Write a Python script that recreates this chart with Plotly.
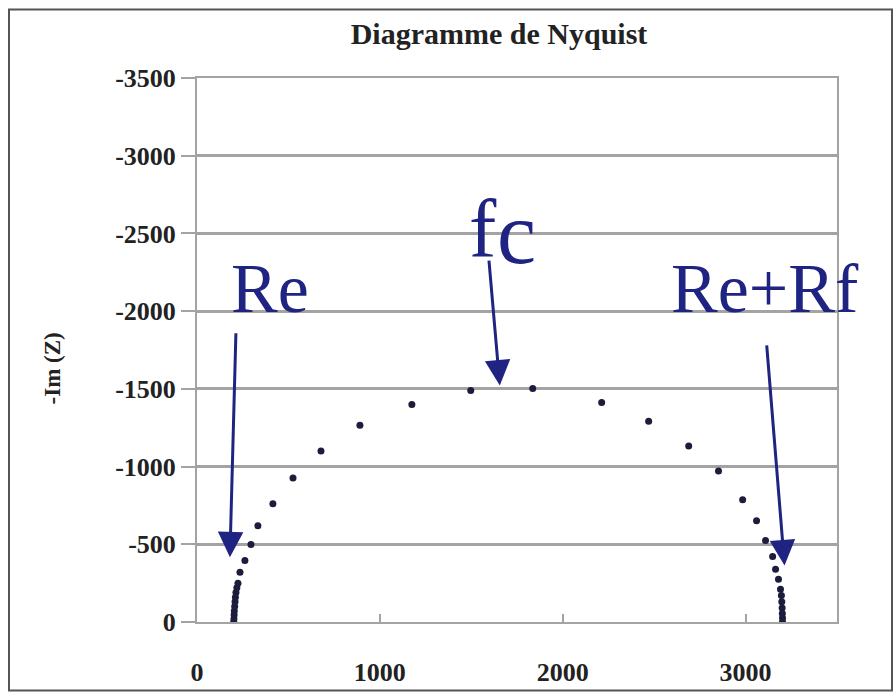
import plotly.graph_objects as go

# ---- data ----
z_real = [201, 202, 203, 204, 206, 208, 210, 213, 218, 224, 235, 262, 295, 333, 415, 525, 678,
          891, 1175, 1497, 1836, 2213, 2470, 2689, 2852, 2984, 3060, 3109, 3148, 3164, 3180,
          3191, 3196, 3198, 3200, 3201, 3202, 3202]
z_imag = [0, -20, -45, -70, -100, -130, -160, -190, -220, -250, -320, -396, -499, -620, -761, -927,
          -1100, -1266, -1400, -1490, -1503, -1413, -1292, -1132, -972, -786, -652, -524, -422,
          -339, -275, -211, -170, -130, -90, -55, -25, 0]

x_ticks = [0, 1000, 2000, 3000]
x_tick_labels = ["0", "1000", "2000", "3000"]
y_ticks = [0, -500, -1000, -1500, -2000, -2500, -3000, -3500]
y_tick_labels = ["0", "-500", "-1000", "-1500", "-2000", "-2500", "-3000", "-3500"]

title_text = "Diagramme de Nyquist"
y_title = "-Im (Z)"

# ---- layout constants ----
W, H = 895, 699
L, R, T, B = 197, 837, 78, 625
SERIF = "Liberation Serif, Times New Roman, serif"
NAVY = "#1f2382"
DOT = "#1c1c3c"
GRID = "#a3a3a3"
TXT = "#222222"

def px2paper_x(px):
    return (px - L) / (R - L)

def px2paper_y(py):
    return (B - py) / (B - T)

fig = go.Figure()
fig.add_trace(go.Scatter(
    x=z_real, y=z_imag, mode="markers",
    marker=dict(size=7, color=DOT),
    showlegend=False, hoverinfo="skip",
))

fig.update_layout(
    width=W, height=H,
    margin=dict(l=L, r=W - R, t=T, b=H - B, pad=0),
    paper_bgcolor="white", plot_bgcolor="white",
    title=dict(text="<b>%s</b>" % title_text, x=499 / W, xref="container",
               y=1 - 33 / H, yref="container", xanchor="center", yanchor="middle",
               font=dict(family=SERIF, size=30, color=TXT)),
    showlegend=False,
)

fig.update_xaxes(
    range=[0, 3500], tickvals=x_ticks, ticktext=["<b>%s</b>" % t for t in x_tick_labels],
    showgrid=False, zeroline=False,
    showline=True, linecolor=GRID, linewidth=2, mirror=True,
    ticks="inside", ticklen=8, tickcolor=GRID, tickwidth=2,
    ticklabelstandoff=26,
    tickfont=dict(family=SERIF, size=26, color=TXT),
)
fig.update_yaxes(
    range=[0, -3500], tickvals=y_ticks, ticktext=["<b>%s</b>" % t for t in y_tick_labels],
    showgrid=True, gridcolor=GRID, gridwidth=3, zeroline=False,
    showline=True, linecolor=GRID, linewidth=2, mirror=True,
    ticks="outside", ticklen=14, tickcolor=GRID, tickwidth=2,
    tickfont=dict(family=SERIF, size=26, color=TXT),
)

annotations = []
# y-axis title
annotations.append(dict(
    text="<b>%s</b>" % y_title, xref="paper", yref="paper",
    x=px2paper_x(52), y=px2paper_y(370), showarrow=False, textangle=-90,
    xanchor="center", yanchor="middle",
    font=dict(family=SERIF, size=23, color=TXT),
))

# arrows (head, tail in data coordinates)
arrows = [
    ((180, -416), (213, -1867)),
    ((1656, -1522), (1596, -2334)),
    ((3213, -364), (3115, -1790)),
]
for (hx, hy), (tx, ty) in arrows:
    annotations.append(dict(
        x=hx, y=hy, ax=tx, ay=ty, xref="x", yref="y", axref="x", ayref="y",
        text="", showarrow=True, arrowhead=2, arrowsize=1.7, arrowwidth=3,
        arrowcolor=NAVY, standoff=0,
    ))

# labels
def label(text, px, py, size):
    annotations.append(dict(
        text=text, xref="paper", yref="paper", x=px2paper_x(px), y=px2paper_y(py),
        showarrow=False, xanchor="center", yanchor="middle",
        font=dict(family=SERIF, size=size, color=NAVY),
    ))

label("Re", 270, 290, 70)
label("Re+Rf", 765, 290, 70)
label("f", 483, 230, 82)
label("c", 516, 234, 88)

fig.update_layout(annotations=annotations)

# outer frame
fig.add_shape(type="rect", xref="paper", yref="paper",
              x0=px2paper_x(9), x1=px2paper_x(892), y0=px2paper_y(694), y1=px2paper_y(9),
              line=dict(color="#555555", width=2), layer="above")

fig.write_html("out.html")
